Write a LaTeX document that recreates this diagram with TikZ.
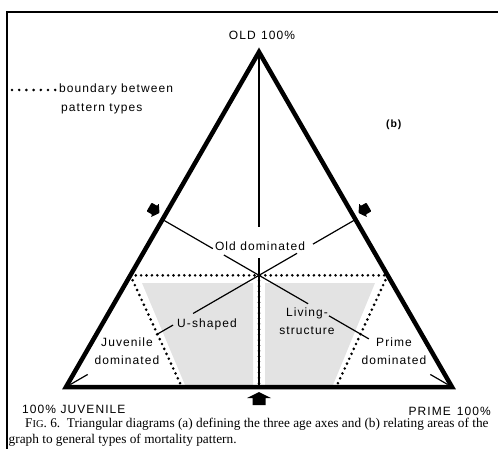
\documentclass[tikz,border=0pt]{standalone}
\usepackage{fontspec}
\setmainfont{Liberation Serif}
\newfontfamily\labelfont[LetterSpace=9]{Liberation Sans}
\usetikzlibrary{calc}
\begin{document}
\begin{tikzpicture}[x=1pt,y=-1pt,
  edge/.style={line width=4.5pt, line join=miter},
  guide/.style={line width=1.2pt},
  dotline/.style={line width=2.9pt, line cap=round, dash pattern=on 0pt off 5.4pt},
  legenddots/.style={line width=2.9pt, line cap=round, dash pattern=on 0pt off 7.2pt},
  lbl/.style={font=\labelfont\fontsize{12}{17.5}\selectfont, inner sep=0pt, align=center},
  region/.style={fill=black!11},
  caption/.style={font=\fontsize{13.3}{15}\selectfont, inner sep=0pt, anchor=base west},
  axisarrow/.pic={\fill (0,0) -- (-6,-12) -- (-6,-6.5) -- (-13,-6.5) -- (-13,6.5) -- (-6,6.5) -- (-6,12) -- cycle;},
  sidearrow/.pic={\fill[rounded corners=0.8pt] (0,0) -- (-5.5,-8) -- (-5.5,-5) -- (-12,-5) -- (-12,5) -- (-5.5,5) -- (-5.5,8) -- cycle;}
]
\useasboundingbox (0,0) rectangle (498,449);
\clip (0,0) rectangle (498,449);

% outer frame (left and top rules)
\draw[line width=2pt] (7,470) -- (7,12) -- (520,12);

% corners of the triangle
\coordinate (O) at (259,52);
\coordinate (J) at (66,387);
\coordinate (P) at (452,387);
\coordinate (mL) at ($(O)!0.5!(J)$);
\coordinate (mR) at ($(O)!0.5!(P)$);
\coordinate (mB) at ($(J)!(O)!(P)$);
\coordinate (dL) at ($(J)!1/3!(O)$);
\coordinate (dR) at ($(P)!1/3!(O)$);
\coordinate (bL) at ($(J)!0.3!(P)$);
\coordinate (bR) at ($(J)!0.7!(P)$);

% shaded areas (U-shaped and living-structure)
\fill[region] (142,283) -- (253,283) -- (253,385) -- (185,385) -- cycle;
\fill[region] (265,283) -- (375,283) -- (333,385) -- (265,385) -- cycle;

% medians, broken where the labels sit
\draw[guide] (O) -- ($(O)!0.522!(mB)$);
\draw[guide] ($(O)!0.615!(mB)$) -- (mB);
\draw[guide] (mR) -- ($(mR)!0.147!(J)$);
\draw[guide] ($(mR)!0.202!(J)$) -- ($(mR)!0.561!(J)$);
\draw[guide] ($(mR)!0.630!(J)$) -- ($(mR)!0.689!(J)$);
\draw[guide] ($(mR)!0.925!(J)$) -- ($(mR)!0.985!(J)$);
\draw[guide] (mL) -- ($(mL)!0.174!(P)$);
\draw[guide] ($(mL)!0.212!(P)$) -- ($(mL)!0.503!(P)$);
\draw[guide] ($(mL)!0.575!(P)$) -- ($(mL)!0.713!(P)$);
\draw[guide] ($(mL)!0.925!(P)$) -- ($(mL)!0.985!(P)$);

% boundaries between pattern types
\draw[guide, line width=1.5pt] ($(O)!2/3!(mB)$) -- (mB);
\draw[dotline] (dL) -- (dR);
\draw[dotline] (dL) -- (bL);
\draw[dotline] (dR) -- (bR);
\draw[dotline] ($(O)!2/3!(mB)$) -- (mB);

% triangle
\draw[edge] (O) -- (J) -- (P) -- cycle;

% axis arrows
\pic[rotate=90] (upA) at (259,392) {axisarrow};
\pic[rotate=-30] (leftA) at (159.5,213) {sidearrow};
\pic[rotate=210] (rightA) at (358.5,213) {sidearrow};

% legend
\coordinate (lg0) at (12,90);
\coordinate (lg1) at (56,90);
\draw[legenddots] (lg0) -- (lg1);
\node[lbl, anchor=base west] (legA) at (59,93) {boundary between};
\node[lbl, anchor=base west] (legB) at (61,112) {pattern types};
\node[font=\labelfont\fontsize{10.5}{12}\selectfont\bfseries, inner sep=0pt, anchor=base west] (tag) at (386,128) {(b)};

% corner labels
\node[lbl, anchor=base] (oldL) at (262,40) {OLD\hspace{0.45em}100\%};
\node[lbl, anchor=base west] (juvL) at (22,413) {100\% JUVENILE};
\node[lbl, anchor=base east] (primeL) at (491,415) {PRIME\hspace{0.5em}100\%};

% area labels
\node[lbl, anchor=base] (olddom) at (260,250.7) {Old dominated};
\node[lbl, anchor=base] (ushaped) at (207,327.3) {U-shaped};
\node[lbl] (juvdom) at (127,351) {Juvenile\\dominated};
\node[lbl] (living) at (307,321.4) {Living-\\structure};
\node[lbl] (primedom) at (394,351) {Prime\\dominated};

% caption
\node[caption] (cap1) at (25,427) {F{\fontsize{10.5}{12}\selectfont IG}. 6.\ \ Triangular diagrams (a) defining the three age axes and (b) relating areas of the};
\node[caption] (cap2) at (8.5,443) {graph to general types of mortality pattern.};
\end{tikzpicture}
\end{document}
